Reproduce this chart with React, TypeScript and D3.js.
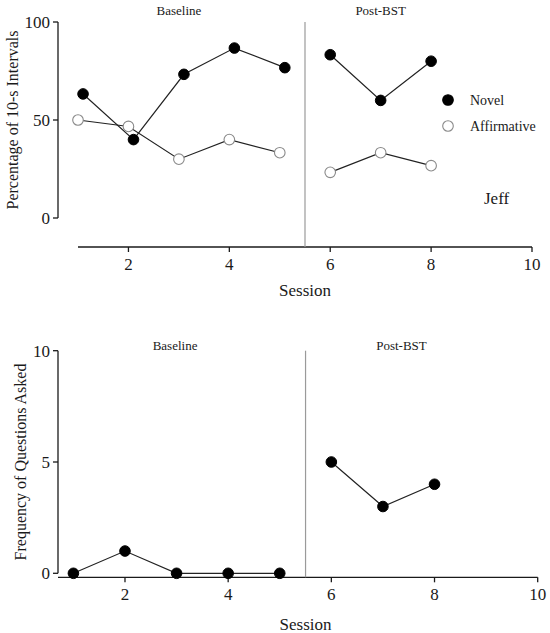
import * as d3 from 'd3';
import { useEffect, useRef } from 'react';

// top panel: percentage of 10-s intervals
const novelSessions = [1.1, 2.1, 3.1, 4.1, 5.1, 6, 7, 8];
const novelPercent = [63.3, 40, 73.3, 86.7, 76.7, 83.3, 60, 80];
const affirmativeSessions = [1, 2, 3, 4, 5, 6, 7, 8];
const affirmativePercent = [50, 46.7, 30, 40, 33.3, 23.3, 33.3, 26.7];

// bottom panel: frequency of questions asked
const questionSessions = [1, 2, 3, 4, 5, 6, 7, 8];
const questionCounts = [0, 1, 0, 0, 0, 5, 3, 4];

const sessionTicks = [2, 4, 6, 8, 10];
const percentTicks = [0, 50, 100];
const countTicks = [0, 5, 10];
const phaseChange = 5.5;
const phaseLabels = ['Baseline', 'Post-BST'];
const legendLabels = ['Novel', 'Affirmative'];
const participant = 'Jeff';

const FONT = 'Liberation Serif, DejaVu Serif, serif';
const INK = '#1a1a1a';

type Pt = { x: number; y: number };

function zip(xs: number[], ys: number[]): Pt[] {
  return xs.map((x, i) => ({ x, y: ys[i] }));
}

export default function App() {
  const svgRef = useRef<SVGSVGElement | null>(null);

  useEffect(() => {
    const svg = d3.select(svgRef.current);
    svg.selectAll('*').remove();

    const drawPanel = (opts: {
      x: d3.ScaleLinear<number, number>;
      y: d3.ScaleLinear<number, number>;
      yAxisX: number;
      xAxisY: number;
      xAxisStart: number;
      yTicks: number[];
      yLabel: string;
      yLabelX: number;
      titleY: number;
      titleSessions: number[];
      sessionY: number;
      series: { pts: Pt[]; filled: boolean }[];
    }) => {
      const { x, y } = opts;
      const g = svg.append('g');

      // y axis
      g.append('line')
        .attr('x1', opts.yAxisX).attr('x2', opts.yAxisX)
        .attr('y1', y(y.domain()[1])).attr('y2', y(y.domain()[0]))
        .attr('stroke', INK).attr('stroke-width', 1.3);
      opts.yTicks.forEach((t) => {
        g.append('line')
          .attr('x1', opts.yAxisX - 5).attr('x2', opts.yAxisX)
          .attr('y1', y(t)).attr('y2', y(t))
          .attr('stroke', INK).attr('stroke-width', 1.3);
        g.append('text')
          .attr('x', opts.yAxisX - 8).attr('y', y(t))
          .attr('dy', '0.35em').attr('text-anchor', 'end')
          .attr('font-size', 17).attr('font-family', FONT).attr('fill', INK)
          .text(t);
      });
      g.append('text')
        .attr('transform', `translate(${opts.yLabelX},${(y(y.domain()[0]) + y(y.domain()[1])) / 2}) rotate(-90)`)
        .attr('text-anchor', 'middle').attr('dy', '0.35em')
        .attr('font-size', 16).attr('font-family', FONT).attr('fill', INK)
        .text(opts.yLabel);

      // x axis
      g.append('line')
        .attr('x1', opts.xAxisStart).attr('x2', x(10))
        .attr('y1', opts.xAxisY).attr('y2', opts.xAxisY)
        .attr('stroke', INK).attr('stroke-width', 1.3);
      sessionTicks.forEach((t) => {
        g.append('line')
          .attr('x1', x(t)).attr('x2', x(t))
          .attr('y1', opts.xAxisY).attr('y2', opts.xAxisY + 5)
          .attr('stroke', INK).attr('stroke-width', 1.3);
        g.append('text')
          .attr('x', x(t)).attr('y', opts.xAxisY + 23)
          .attr('text-anchor', 'middle')
          .attr('font-size', 17).attr('font-family', FONT).attr('fill', INK)
          .text(t);
      });
      g.append('text')
        .attr('x', x(phaseChange)).attr('y', opts.sessionY)
        .attr('text-anchor', 'middle')
        .attr('font-size', 17).attr('font-family', FONT).attr('fill', INK)
        .text('Session');

      // phase change line
      g.append('line')
        .attr('x1', x(phaseChange)).attr('x2', x(phaseChange))
        .attr('y1', y(y.domain()[1])).attr('y2', opts.xAxisY)
        .attr('stroke', '#9a9a9a').attr('stroke-width', 1.2);
      phaseLabels.forEach((label, i) => {
        g.append('text')
          .attr('x', x(opts.titleSessions[i])).attr('y', opts.titleY)
          .attr('text-anchor', 'middle')
          .attr('font-size', 13).attr('font-family', FONT).attr('fill', INK)
          .text(label);
      });

      const line = d3.line<Pt>().x((d) => x(d.x)).y((d) => y(d.y));
      opts.series.forEach((s) => {
        const before = s.pts.filter((d) => d.x < phaseChange);
        const after = s.pts.filter((d) => d.x > phaseChange);
        [before, after].forEach((seg) => {
          g.append('path')
            .attr('d', line(seg))
            .attr('fill', 'none').attr('stroke', '#222').attr('stroke-width', 1.2);
        });
      });
      opts.series.forEach((s) => {
        g.selectAll(null)
          .data(s.pts)
          .enter()
          .append('circle')
          .attr('cx', (d) => x(d.x)).attr('cy', (d) => y(d.y))
          .attr('r', 5.3)
          .attr('fill', s.filled ? '#000' : '#fff')
          .attr('stroke', s.filled ? '#000' : '#8a8a8a')
          .attr('stroke-width', s.filled ? 1 : 1.1);
      });
    };

    const xTop = d3.scaleLinear().domain([1, 10]).range([78, 532]);
    const yTop = d3.scaleLinear().domain([0, 100]).range([218, 22]);
    drawPanel({
      x: xTop, y: yTop,
      yAxisX: 58, xAxisY: 247, xAxisStart: 78,
      yTicks: percentTicks,
      yLabel: 'Percentage of 10-s Intervals', yLabelX: 12,
      titleY: 15, titleSessions: [3, 7],
      sessionY: 296,
      series: [
        { pts: zip(affirmativeSessions, affirmativePercent), filled: false },
        { pts: zip(novelSessions, novelPercent), filled: true },
      ],
    });

    // legend and participant name
    const lg = svg.append('g');
    legendLabels.forEach((label, i) => {
      const cy = 100 + i * 26;
      lg.append('circle')
        .attr('cx', 448).attr('cy', cy).attr('r', 5.3)
        .attr('fill', i === 0 ? '#000' : '#fff')
        .attr('stroke', i === 0 ? '#000' : '#8a8a8a').attr('stroke-width', 1.1);
      lg.append('text')
        .attr('x', 470).attr('y', cy).attr('dy', '0.35em')
        .attr('font-size', 14).attr('font-family', FONT).attr('fill', INK)
        .text(label);
    });
    lg.append('text')
      .attr('x', 484).attr('y', 198).attr('dy', '0.35em')
      .attr('font-size', 17).attr('font-family', FONT).attr('fill', INK)
      .text(participant);

    const xBot = d3.scaleLinear().domain([1, 10]).range([73.4, 537.7]);
    const yBot = d3.scaleLinear().domain([0, 10]).range([573.3, 350.7]);
    drawPanel({
      x: xBot, y: yBot,
      yAxisX: 58, xAxisY: 577.3, xAxisStart: 58,
      yTicks: countTicks,
      yLabel: 'Frequency of Questions Asked', yLabelX: 20,
      titleY: 350, titleSessions: [2.97, 7.36],
      sessionY: 630,
      series: [{ pts: zip(questionSessions, questionCounts), filled: true }],
    });
  }, []);

  return (
    <div style={{ position: 'absolute', left: 0, top: 0 }}>
      <svg ref={svgRef} width={550} height={633} style={{ display: 'block', background: '#fff' }} />
    </div>
  );
}
